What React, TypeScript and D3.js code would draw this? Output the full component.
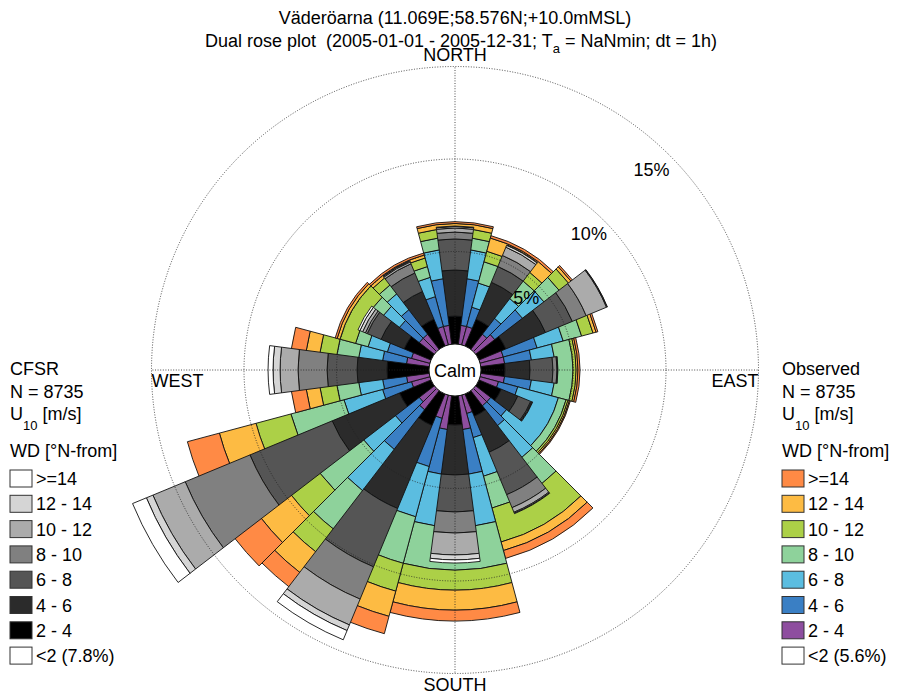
import * as d3 from "d3";

const directions = [0, 30, 60, 90, 120, 150, 180, 210, 240, 270, 300, 330];
const speedBins = ["2 - 4", "4 - 6", "6 - 8", "8 - 10", "10 - 12", "12 - 14", ">=14"];

// percent of time, rows = speed bin (2-4 ... >=14), columns = direction sector
const observed = [
  [1.03, 1.03, 1.30, 1.30, 1.03, 1.03, 1.84, 1.30, 1.03, 1.24, 1.03, 1.03],
  [2.54, 1.08, 1.89, 1.46, 1.08, 1.35, 2.43, 2.70, 1.62, 1.30, 1.35, 1.67],
  [1.57, 1.35, 1.46, 1.24, 2.27, 2.16, 2.81, 2.81, 2.16, 1.30, 1.08, 1.08],
  [0.64, 1.19, 1.03, 0.97, 0.43, 1.78, 2.33, 2.60, 2.97, 1.19, 0.70, 0.60],
  [0.47, 0.59, 0.64, 0.17, 0.11, 1.90, 1.08, 1.56, 1.95, 0.92, 0.87, 0.48],
  [0.26, 0.74, 0.17, 0.10, 0.08, 0.48, 1.08, 1.41, 2.05, 0.75, 0.16, 0.17],
  [0.10, 0.13, 0.10, 0.11, 0.05, 0.44, 0.59, 0.97, 1.79, 0.81, 0.11, 0.11],
];
const cfsr = [
  [1.51, 1.57, 1.57, 1.30, 1.30, 1.30, 1.57, 1.84, 1.84, 2.27, 1.57, 1.57],
  [2.49, 2.16, 2.32, 1.35, 0.97, 2.11, 2.70, 4.86, 3.94, 1.62, 1.35, 1.62],
  [1.68, 0.92, 1.57, 1.24, 0.76, 2.48, 2.00, 3.41, 4.81, 1.62, 0.81, 1.08],
  [0.37, 0.65, 0.81, 0.22, 0.05, 0.76, 1.14, 1.89, 3.79, 1.57, 0.11, 0.54],
  [0.22, 0.48, 1.19, 0.03, 0.03, 0.27, 1.18, 1.51, 1.89, 0.97, 0.16, 0.11],
  [0.08, 0.11, 0.03, 0.02, 0.03, 0.05, 0.27, 0.33, 0.38, 0.38, 0.16, 0.05],
  [0.03, 0.03, 0.02, 0.00, 0.00, 0.03, 0.17, 0.54, 0.81, 0.27, 0.11, 0.03],
];
const calmObs = 5.6;
const calmCfsr = 7.8;
const nObs = 8735;
const nCfsr = 8735;

const obsColors = ["#8e4e9f", "#3a7fc4", "#5bbde0", "#8ed29b", "#acd047", "#fdbb43", "#ff8a45"];
const cfsrColors = ["#000000", "#2b2b2b", "#555555", "#808080", "#ababab", "#d5d5d5", "#ffffff"];
const rings = [5, 10, 15];
const compass = [
  {label: "NORTH", deg: 0},
  {label: "EAST", deg: 90},
  {label: "SOUTH", deg: 180},
  {label: "WEST", deg: 270},
];

const W = 904, H = 696;
const cx = 455, cy = 370;
const calmR = 26;
const font = "'Liberation Sans', Arial, Helvetica, sans-serif";

const r = d3.scaleLinear().domain([0, 15]).range([calmR, 303.5]);
const arc = d3.arc();
const rad = (d) => (d * Math.PI) / 180;

function Rose({data, colors, half}) {
  return (
    <g>
      {directions.map((dir, j) => {
        const vals = data.map((row) => row[j]);
        const cum = [0, ...d3.cumsum(vals)];
        return vals.map((v, i) =>
          v > 0 ? (
            <path
              key={`${dir}-${i}`}
              d={arc({
                innerRadius: r(cum[i]),
                outerRadius: r(cum[i + 1]),
                startAngle: rad(dir - half),
                endAngle: rad(dir + half),
              })}
              fill={colors[i]}
              stroke="#111"
              strokeWidth={0.9}
            />
          ) : null
        );
      })}
    </g>
  );
}

function Legend({x, title, n, calm, colors}) {
  const items = [...speedBins].reverse().map((s, i) => ({label: s, color: colors[colors.length - 1 - i]}));
  items.push({label: `<2 (${calm}%)`, color: "#ffffff"});
  return (
    <g fontFamily={font} fontSize={18} fill="#000">
      <text x={x} y={375}>{title}</text>
      <text x={x} y={398}>N = {n}</text>
      <text x={x} y={420}>
        U<tspan fontSize={13} dy={10}>10</tspan>
        <tspan dy={-10}> [m/s]</tspan>
      </text>
      <text x={x} y={457}>WD [°N-from]</text>
      {items.map((it, i) => (
        <g key={i}>
          <rect x={x} y={470 + i * 25.3} width={22} height={17} fill={it.color} stroke="#333" strokeWidth={1} />
          <text x={x + 26} y={470 + i * 25.3 + 15}>{it.label}</text>
        </g>
      ))}
    </g>
  );
}

export default function App() {
  const outer = r(15);
  return (
    <svg width={W} height={H} style={{position: "absolute", left: 0, top: 0, background: "#fff"}}>
      <g fontFamily={font} fontSize={18} textAnchor="middle">
        <text x={cx} y={24}>Väderöarna (11.069E;58.576N;+10.0mMSL)</text>
        <text x={cx + 6} y={47} style={{whiteSpace: "pre"}}>
          {"Dual rose plot  (2005-01-01 - 2005-12-31; T"}
          <tspan fontSize={13} dy={6}>a</tspan>
          <tspan dy={-6}>{" = NaNmin; dt = 1h)"}</tspan>
        </text>
      </g>

      <g transform={`translate(${cx},${cy})`}>
        <Rose data={observed} colors={obsColors} half={15} />
        <Rose data={cfsr} colors={cfsrColors} half={7.5} />

        {rings.map((p) => (
          <circle key={p} r={r(p)} fill="none" stroke="#222" strokeWidth={0.8} strokeDasharray="1 1.6" />
        ))}
        {compass.map((c) => (
          <line
            key={c.label}
            x1={calmR * Math.sin(rad(c.deg))}
            y1={-calmR * Math.cos(rad(c.deg))}
            x2={outer * Math.sin(rad(c.deg))}
            y2={-outer * Math.cos(rad(c.deg))}
            stroke="#222"
            strokeWidth={0.8}
            strokeDasharray="1 1.6"
          />
        ))}
        <g fontFamily={font} fontSize={18}>
          {rings.map((p) => {
            const rr = r(p) - (14 + p * 0.6);
            return (
              <text
                key={p}
                x={rr * Math.sin(rad(44.5))}
                y={-rr * Math.cos(rad(44.5))}
                textAnchor="middle"
                dominantBaseline="central"
              >
                {p}%
              </text>
            );
          })}
          <text x={0} y={-outer - 6} textAnchor="middle">NORTH</text>
          <text x={0} y={outer + 17} textAnchor="middle">SOUTH</text>
          <text x={-outer} y={17} textAnchor="start">WEST</text>
          <text x={outer} y={17} textAnchor="end">EAST</text>
        </g>

        <circle r={calmR} fill="#fff" stroke="#111" strokeWidth={1} />
        <text fontFamily={font} fontSize={18} textAnchor="middle" dominantBaseline="central" y={1}>Calm</text>
      </g>

      <Legend x={10} title="CFSR" n={nCfsr} calm={calmCfsr} colors={cfsrColors} />
      <Legend x={782} title="Observed" n={nObs} calm={calmObs} colors={obsColors} />
    </svg>
  );
}
